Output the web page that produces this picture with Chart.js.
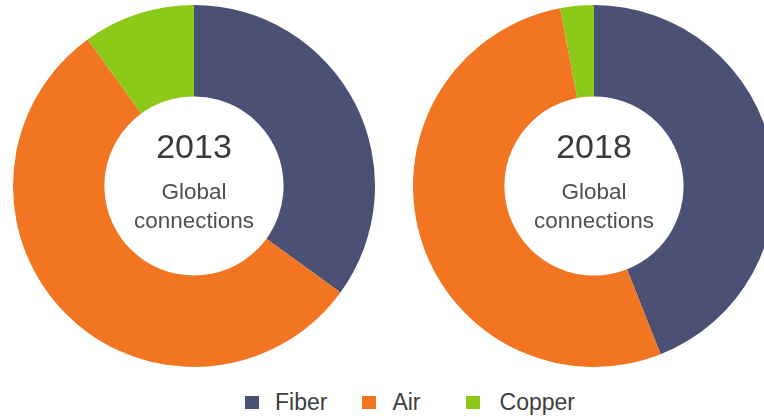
<!DOCTYPE html>
<html>
<head>
<meta charset="utf-8">
<script src="https://cdn.jsdelivr.net/npm/chart.js@4/dist/chart.umd.min.js"></script>
<style>
  html, body { margin: 0; padding: 0; background: #fff; overflow: hidden; width: 764px; height: 417px; }
  body { position: relative; font-family: "Liberation Sans", Arial, sans-serif; }
  .pie { position: absolute; top: 5px; width: 362px; height: 362px; }
  .pie canvas { position: absolute; left: 0; top: 0; }
  .label { position: absolute; left: 0; width: 362px; text-align: center; line-height: 1; white-space: nowrap; pointer-events: none; }
  .year { top: 124px; font-size: 34px; color: #3a3a3a; }
  .l1 { top: 176px; font-size: 22.5px; color: #505050; }
  .l2 { top: 205px; font-size: 22.5px; color: #505050; }
  #legend { position: absolute; left: 245px; top: 391px; display: flex; align-items: center; font-size: 23px; color: #3e3e3e; line-height: 1; }
  .item { display: flex; align-items: center; }
  .item:nth-child(1) { margin-right: 35px; }
  .item:nth-child(2) { margin-right: 45px; }
  .box { width: 14px; height: 13px; margin-right: 16px; }
  .item:nth-child(3) .box { margin-right: 20px; }
</style>
</head>
<body>
<div class="pie" id="p0" style="left:13px"><canvas id="c0" width="362" height="362"></canvas></div>
<div class="pie" id="p1" style="left:413px"><canvas id="c1" width="362" height="362"></canvas></div>
<div id="legend"></div>
<script>
// Connection types and their shares (%) of global connections
const categories = ["Fiber", "Air", "Copper"];
const years = ["2013", "2018"];
const share2013 = [35, 55, 10];
const share2018 = [44, 53, 3];
const centerLines = ["Global", "connections"];
const colors = ["#4b5174", "#f27521", "#8cc919"];

const series = [share2013, share2018];

series.forEach((values, i) => {
  new Chart(document.getElementById("c" + i), {
    type: "doughnut",
    data: {
      labels: categories,
      datasets: [{
        data: values,
        backgroundColor: colors,
        borderWidth: 0,
        hoverOffset: 0
      }]
    },
    options: {
      responsive: false,
      animation: false,
      cutout: "49.5%",
      layout: { padding: 0 },
      plugins: { legend: { display: false }, tooltip: { enabled: false } }
    }
  });

  // Text in the hole of each ring
  const holder = document.getElementById("p" + i);
  const y = document.createElement("div");
  y.className = "label year";
  y.textContent = years[i];
  holder.appendChild(y);
  centerLines.forEach((t, k) => {
    const d = document.createElement("div");
    d.className = "label l" + (k + 1);
    d.textContent = t;
    holder.appendChild(d);
  });
});

// Shared legend below both rings
const legend = document.getElementById("legend");
categories.forEach((name, k) => {
  const item = document.createElement("div");
  item.className = "item";
  const box = document.createElement("span");
  box.className = "box";
  box.style.background = colors[k];
  const txt = document.createElement("span");
  txt.textContent = name;
  item.appendChild(box);
  item.appendChild(txt);
  legend.appendChild(item);
});
</script>
</body>
</html>
